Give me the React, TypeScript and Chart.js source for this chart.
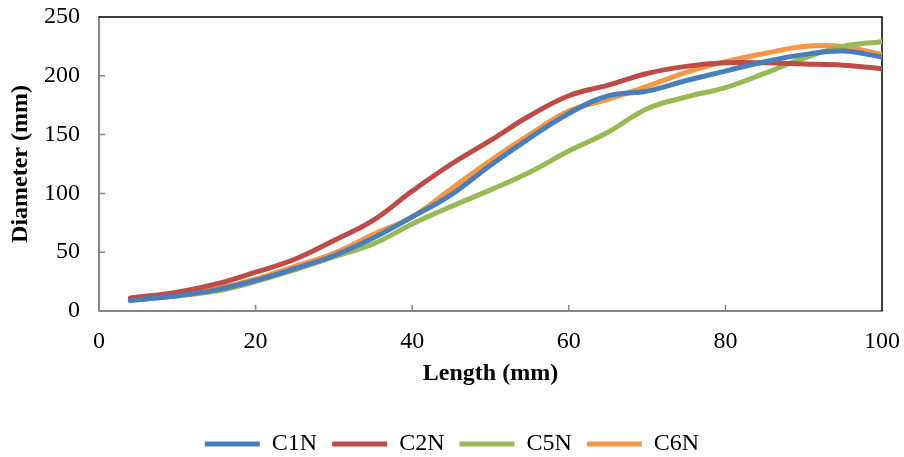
import React, { useEffect, useRef } from "react";
import { Chart, registerables } from "chart.js";

Chart.register(...registerables);

const lengths = [4, 10, 15, 20, 25, 30, 35, 40, 45, 50, 55, 60, 65, 70, 75, 80, 85, 90, 95, 100];
const c1n = [9, 13, 18, 26, 36, 47, 62, 80, 99, 124, 147, 168, 183, 187, 196, 204, 212, 218, 221, 216];
const c2n = [11, 16, 23, 33, 44, 60, 77, 102, 125, 145, 166, 183, 192, 202, 208, 211, 211, 210, 209, 206];
const c5n = [9, 13, 17, 25, 35, 46, 57, 74, 89, 103, 118, 136, 152, 172, 182, 190, 202, 215, 225, 229];
const c6n = [10, 14, 19, 27, 38, 49, 65, 80, 104, 128, 150, 170, 180, 191, 203, 212, 219, 225, 225, 218];

const seriesNames = ["C1N", "C2N", "C5N", "C6N"];
const seriesColors = ["#4A7EBB", "#BE4B48", "#98B954", "#F79646"];
const xTicks = [0, 20, 40, 60, 80, 100];
const yTicks = [0, 50, 100, 150, 200, 250];

const FONT = "'Liberation Serif', 'Times New Roman', serif";

const framePlugin = {
  id: "frame",
  beforeDatasetsDraw(chart: any) {
    const { ctx, chartArea, scales } = chart;
    const { left, right, top, bottom } = chartArea;
    ctx.save();
    ctx.strokeStyle = "#868686";
    ctx.lineWidth = 1.5;
    ctx.beginPath();
    for (const v of yTicks) {
      const y = scales.y.getPixelForValue(v);
      if (v === 0 || v === 250) continue;
      ctx.moveTo(left, y);
      ctx.lineTo(left + 6, y);
    }
    for (const v of xTicks) {
      if (v === 0 || v === 100) continue;
      const x = scales.x.getPixelForValue(v);
      ctx.moveTo(x, bottom);
      ctx.lineTo(x, bottom - 6);
    }
    ctx.stroke();
    ctx.strokeStyle = "#000000";
    ctx.lineWidth = 1.5;
    ctx.beginPath();
    ctx.moveTo(left, top);
    ctx.lineTo(right, top);
    ctx.lineTo(right, bottom);
    ctx.stroke();
    ctx.restore();
  },
};

export default function App() {
  const ref = useRef<HTMLCanvasElement | null>(null);
  useEffect(() => {
    if (!ref.current) return;
    const all = [c1n, c2n, c5n, c6n];
    const chart = new Chart(ref.current, {
      type: "line",
      data: {
        datasets: all.map((vals, i) => ({
          label: seriesNames[i],
          data: vals.map((v, j) => ({ x: lengths[j], y: v })),
          borderColor: seriesColors[i],
          backgroundColor: seriesColors[i],
          borderWidth: 5,
          pointRadius: 0,
          tension: 0.4,
          fill: false,
          borderCapStyle: "round" as const,
          borderJoinStyle: "round" as const,
        })),
      },
      options: {
        animation: false,
        responsive: false,
        maintainAspectRatio: false,
        layout: { padding: { top: 17, right: 0, left: 0, bottom: -9 } },
        plugins: {
          tooltip: { enabled: false },
          legend: {
            position: "bottom",
            labels: {
              usePointStyle: true,
              pointStyle: "line",
              pointStyleWidth: 55,
              padding: 15,
              color: "#000000",
              font: { family: FONT, size: 24 },
            },
          },
        },
        scales: {
          x: {
            type: "linear",
            min: 0,
            max: 100,
            afterBuildTicks: (s: any) => {
              s.ticks = xTicks.map((v) => ({ value: v }));
            },
            afterFit: (s: any) => {
              s.height = 106;
              s.paddingLeft = 0;
              s.paddingRight = 22;
            },
            grid: { display: false, drawTicks: false },
            border: { display: true, color: "#868686", width: 2 },
            ticks: {
              padding: 16,
              color: "#000000",
              font: { family: FONT, size: 24 },
              maxRotation: 0,
            },
            title: {
              display: true,
              text: "Length (mm)",
              color: "#000000",
              font: { family: FONT, size: 24, weight: "bold" },
              padding: { top: 0, bottom: 29 },
            },
          },
          y: {
            type: "linear",
            min: 0,
            max: 250,
            afterBuildTicks: (s: any) => {
              s.ticks = yTicks.map((v) => ({ value: v }));
            },
            afterFit: (s: any) => {
              s.width = 99;
              s.paddingTop = 0;
              s.paddingBottom = 0;
            },
            grid: { display: false, drawTicks: false },
            border: { display: true, color: "#868686", width: 2 },
            ticks: {
              padding: 19,
              color: "#000000",
              font: { family: FONT, size: 24 },
            },
            title: {
              display: true,
              text: "Diameter (mm)",
              color: "#000000",
              font: { family: FONT, size: 24, weight: "bold" },
              padding: { top: 6, bottom: 0 },
            },
          },
        },
      },
      plugins: [framePlugin],
    });
    return () => chart.destroy();
  }, []);
  return (
    <div style={{ position: "absolute", left: 0, top: 0, width: 904, height: 457, background: "#ffffff" }}>
      <canvas ref={ref} width={904} height={457} style={{ width: 904, height: 457 }} />
    </div>
  );
}
